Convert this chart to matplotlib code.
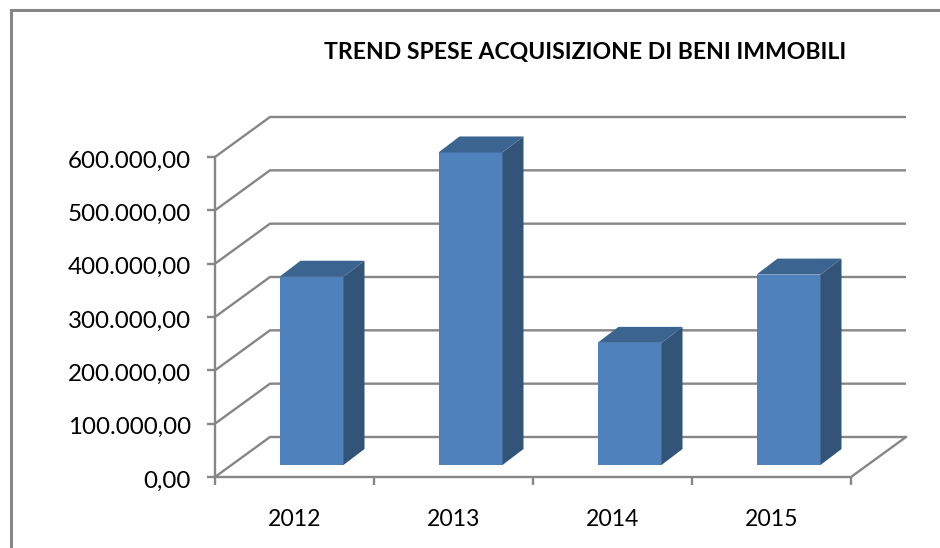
import matplotlib
matplotlib.use('Agg')
import matplotlib.pyplot as plt
from matplotlib.patches import Polygon
from matplotlib.lines import Line2D
from matplotlib.transforms import ScaledTranslation

W, H = 940, 548

years = ["2012", "2013", "2014", "2015"]
values = [353000, 586000, 229000, 357000]
y_ticks = [0, 100000, 200000, 300000, 400000, 500000, 600000]
y_labels = ["0,00", "100.000,00", "200.000,00", "300.000,00",
            "400.000,00", "500.000,00", "600.000,00"]
title = "TREND SPESE ACQUISIZIONE DI BENI IMMOBILI"

GREY = "#868686"
FRONT = "#4F81BD"
SIDE = "#325479"
TOP = "#3C6491"

plt.rcParams['font.family'] = ['Lato', 'DejaVu Sans']

fig = plt.figure(figsize=(W / 100, H / 100), dpi=100, facecolor='white')

# axes box is the front plane of the 3D chart
left, right, top, bottom = 215, 851, 157, 477
ax = fig.add_axes([left / W, 1 - bottom / H, (right - left) / W, (bottom - top) / H])
ax.set_xlim(0, len(years))
ax.set_ylim(0, 600000)
ax.patch.set_visible(False)
for s in ax.spines.values():
    s.set_visible(False)

# depth of the box and of the bars, in data units
px_x = len(years) / (right - left)
px_y = 600000 / (bottom - top)
depth_x, depth_y = 55 * px_x, 40 * px_y
bar_dx, bar_dy = 21 * px_x, 16 * px_y
off_x, off_y = 17 * px_x, 12 * px_y
bar_w = 64 * px_x
n = len(years)
lw = 1.7

# walls
for v in y_ticks:
    ax.plot([0, depth_x, n + depth_x], [v, v + depth_y, v + depth_y], color=GREY, lw=lw,
            clip_on=False, zorder=1, solid_capstyle='butt')
ax.plot([0, n, n + depth_x], [0, 0, depth_y], color=GREY, lw=lw, clip_on=False, zorder=1)
ax.plot([0, 0], [0, 600000], color=GREY, lw=lw, clip_on=False, zorder=1)

# bars: front face from bar(), side and top projected from the same values
for i, v in enumerate(values):
    x0 = i + 0.5 + off_x - bar_w / 2
    x1 = x0 + bar_w
    y0 = off_y
    y1 = v + off_y
    ax.bar(i + 0.5 + off_x, v, width=bar_w, bottom=off_y, color=FRONT, zorder=3, clip_on=False)
    ax.add_patch(Polygon([(x1, y0), (x1 + bar_dx, y0 + bar_dy), (x1 + bar_dx, y1 + bar_dy), (x1, y1)],
                         closed=True, facecolor=SIDE, edgecolor='none', zorder=3, clip_on=False))
    ax.add_patch(Polygon([(x0, y1), (x0 + bar_dx, y1 + bar_dy), (x1 + bar_dx, y1 + bar_dy), (x1, y1)],
                         closed=True, facecolor=TOP, edgecolor='none', zorder=3, clip_on=False))

ax.set_yticks(y_ticks)
ax.set_yticklabels(y_labels, fontsize=17.4, color='black')
ax.set_xticks(range(n + 1))
ax.set_xticklabels([""] * (n + 1))
ax.tick_params(axis='both', color=GREY, width=lw, length=6)
ax.tick_params(axis='y', pad=11.5)
# labels sit a little below their ticks
shift = ScaledTranslation(0, -2 / 100, fig.dpi_scale_trans)
for t in ax.get_yticklabels():
    t.set_transform(t.get_transform() + shift)
for i, yr in enumerate(years):
    ax.annotate(yr, (i + 0.5, 0), xytext=(0, -42), textcoords='offset pixels', ha='center',
                va='center', fontsize=16.6, color='black', annotation_clip=False)

fig.text(585 / W, 1 - 52 / H, title, ha='center', va='center', fontsize=16.6, fontweight='bold', color='black')

# outer frame, cut by the image on the right and at the bottom
fig.add_artist(Line2D([10.5 / W, 10.5 / W, 1], [0, 1 - 9.5 / H, 1 - 9.5 / H], color=GREY, lw=2.2,
                      solid_joinstyle='miter'))

fig.savefig("out.png", dpi=100, facecolor='white')
